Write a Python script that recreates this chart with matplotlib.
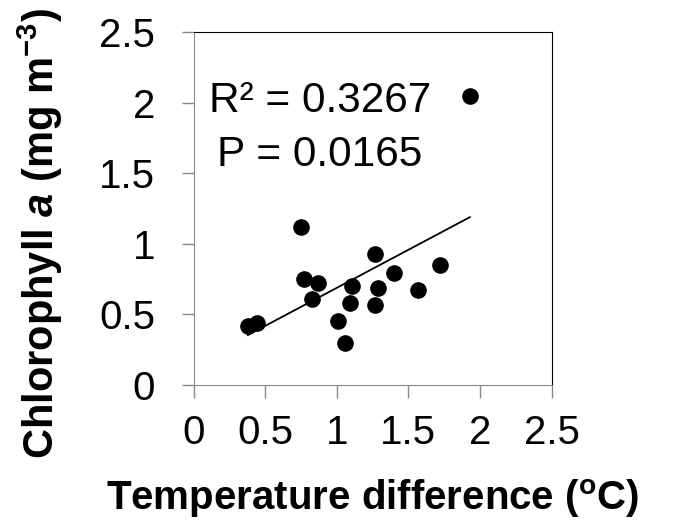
import numpy as np
import matplotlib
matplotlib.use("Agg")
import matplotlib.pyplot as plt

plt.rcParams['font.family'] = ['Liberation Sans', 'DejaVu Sans']
plt.rcParams['mathtext.fontset'] = 'custom'
plt.rcParams['mathtext.rm'] = 'Liberation Sans'
plt.rcParams['mathtext.it'] = 'Liberation Sans:italic'
plt.rcParams['mathtext.bf'] = 'Liberation Sans:bold'
plt.rcParams['mathtext.bfit'] = 'Liberation Sans:italic:bold'

#====================1======================
#               data
#===========================================
temp_diff = [0.75, 1.27, 1.72, 1.40, 0.77, 0.87, 1.11, 1.29, 1.57,
             0.83, 1.09, 1.27, 1.01, 1.06, 0.38, 0.44, 1.93]
chl_a     = [1.12, 0.93, 0.85, 0.79, 0.75, 0.72, 0.70, 0.69, 0.67,
             0.61, 0.58, 0.57, 0.45, 0.30, 0.42, 0.44, 2.05]
r2_text = "R² = 0.3267"
p_text  = "P = 0.0165"
ticks = [0, 0.5, 1, 1.5, 2, 2.5]
tick_labels = ['0', '0.5', '1', '1.5', '2', '2.5']

x = np.array(temp_diff)
y = np.array(chl_a)
slope, icpt = np.polyfit(x, y, 1)
x_fit = np.array([x.min(), x.max()])

#====================2======================
#                 plot
#===========================================
W, H = 674, 520
fig = plt.figure(figsize=(W/100, H/100), dpi=100)
ax_w, ax_h = 358, 353
ax = fig.add_axes([193.5/W, (H-385)/H, ax_w/W, ax_h/H])

ax.plot(x_fit, slope*x_fit + icpt, color='k', lw=1.3)
ax.scatter(x, y, s=120, c='k', zorder=3)

ax.set_xlim(0, 2.5)
ax.set_ylim(0, 2.5)
ax.set_xticks(ticks)
ax.set_yticks(ticks)
ax.set_xticklabels(tick_labels)
ax.set_yticklabels(tick_labels)
ax.tick_params(axis='both', direction='out', length=9, width=1,
               color='#888888', labelsize=29)
ax.tick_params(axis='x', pad=12)
ax.tick_params(axis='y', pad=18.5)
for s in ['left', 'bottom']:
    ax.spines[s].set_color('#888888')
for s in ['top', 'right']:
    ax.spines[s].set_color('black')

# annotation, pixel coords from top-left -> axes fraction
def px2ax(px, py):
    return (px - 193.5) / ax_w, (385 - py) / ax_h

ax.text(*px2ax(209, 111.7), r2_text, transform=ax.transAxes, fontsize=30.5)
ax.text(*px2ax(217, 165.7), p_text, transform=ax.transAxes, fontsize=30.5)

ax.set_xlabel(r"Temperature difference ($^{\mathbf{o}}$C)",
              fontsize=29, fontweight='bold')
ax.xaxis.label.set_va('baseline')
ax.xaxis.set_label_coords(*px2ax(372.5, 509.5))

ax.set_ylabel(r"Chlorophyll $\mathbfit{a}$ (mg m$^{\mathbf{-3}}$)",
              fontsize=30, fontweight='bold')
ax.yaxis.label.set_va('center')
ax.yaxis.set_label_coords(*px2ax(40, 234))

fig.savefig("out.png", dpi=100)
